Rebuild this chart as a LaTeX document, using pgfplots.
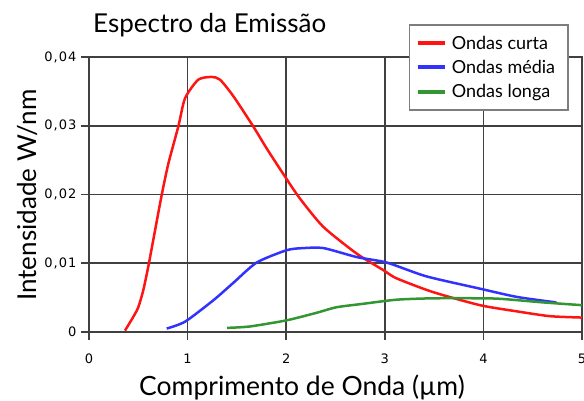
\documentclass[border=0pt]{standalone}
\usepackage{fontspec}
\setmainfont{Lato}
\newfontfamily\tickfont[LetterSpace=8]{DejaVu Sans}
\usepackage{pgfplots}
\pgfplotsset{compat=1.18}
\definecolor{curta}{RGB}{255,20,20}
\definecolor{media}{RGB}{50,50,255}
\definecolor{longa}{RGB}{50,150,50}
\definecolor{eixo}{RGB}{64,64,64}
\definecolor{borda}{RGB}{125,125,125}

\begin{document}
\begin{tikzpicture}
\begin{axis}[
  name=ax,
  at={(0pt,0pt)}, anchor=south west,
  scale only axis,
  width=493pt, height=275pt,
  xmin=0, xmax=5, ymin=0, ymax=0.04,
  xtick={0,1,2,3,4,5},
  ytick={0,0.01,0.02,0.03,0.04},
  xtick pos=bottom, ytick pos=left,
  tick align=outside,
  major tick length=8pt,
  grid=major,
  axis line style={eixo, line width=1.7pt},
  grid style={eixo, line width=1.7pt},
  major tick style={eixo, line width=1.7pt},
  scaled y ticks=false,
  /pgf/number format/.cd, use comma, fixed, precision=2, assume math mode=true,
  /pgfplots/.cd,
  tick label style={font=\tickfont\fontsize{13}{15}\selectfont},
  xticklabel style={yshift=-10pt},
  yticklabel style={xshift=-1pt},
  legend style={
    at={(0.9736,1.12)}, anchor=north east,
    draw=borda, line width=1.6pt,
    fill=white,
    font=\fontsize{18}{20}\selectfont,
    row sep=5.5pt,
    inner xsep=6pt, inner ysep=9pt,
  },
  legend cell align=left,
  legend image code/.code={
    \draw[#1, line width=4pt] (0pt,0pt) -- (27pt,0pt);
    \path (31pt,0pt);
  },
  every axis plot/.append style={line width=2.5pt, no marks},
]

% Ondas curta
\addplot[curta, smooth, tension=0.4] coordinates {
(0.365,0.0002) (0.449,0.0022) (0.50,0.0036) (0.551,0.0061) (0.601,0.0095)
(0.652,0.0134) (0.737,0.0199) (0.805,0.0245) (0.906,0.0299) (0.974,0.0340)
(1.108,0.0367) (1.244,0.0371) (1.329,0.0367) (1.464,0.0343) (1.666,0.0299)
(1.802,0.0267) (1.988,0.0226) (2.14,0.0194) (2.376,0.0153) (2.715,0.0114)
(2.985,0.0090) (3.12,0.0078) (3.49,0.0058) (3.966,0.0039) (4.34,0.0030)
(4.675,0.0023) (5.0,0.0021)
};

% Ondas media
\addplot[media, smooth, tension=0.4] coordinates {
(0.788,0.0005) (0.974,0.0015) (1.26,0.0046) (1.46,0.0071) (1.70,0.0101)
(2.005,0.0119) (2.17,0.0122) (2.38,0.0122) (2.715,0.0109) (3.02,0.0101)
(3.42,0.0081) (3.966,0.0063) (4.34,0.0051) (4.74,0.0043)
};

% Ondas longa
\addplot[longa, smooth, tension=0.4] coordinates {
(1.40,0.0006) (1.63,0.0008) (2.005,0.0017) (2.31,0.0028) (2.51,0.0036)
(2.78,0.0041) (3.12,0.0047) (3.49,0.0049) (4.0,0.0049) (4.2,0.0048)
(4.61,0.0043) (5.0,0.0039)
};

\legend{Ondas curta\hspace*{5pt}, Ondas média\hspace*{5pt}, Ondas longa\hspace*{5pt}}
\end{axis}

\node[anchor=base west, font=\fontsize{26}{28}\selectfont, inner sep=0pt]
  at (4pt,299pt) {Espectro da Emissão};
\node[anchor=base, font=\fontsize{26.5}{28}\selectfont, inner sep=0pt]
  at (213pt,-64pt) {Comprimento de Onda (µm)};
\node[anchor=base, rotate=90, font=\fontsize{26}{28}\selectfont, inner sep=0pt]
  at (-52pt,137pt) {Intensidade W/nm};

\pgfresetboundingbox
\path[use as bounding box] (-89pt,-69pt) rectangle (495pt,332pt);
\end{tikzpicture}
\end{document}
